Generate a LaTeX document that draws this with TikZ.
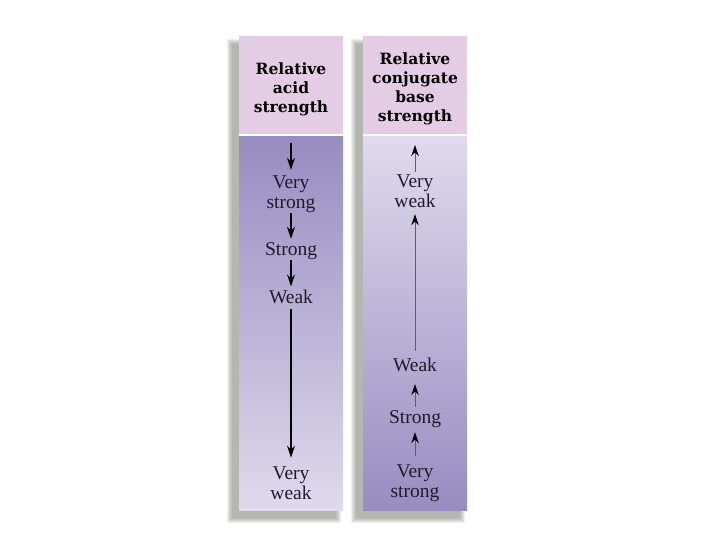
\documentclass[tikz,border=0pt]{standalone}
\usepackage{fontspec}
\newfontfamily\bodyfont{Liberation Serif}
\newfontfamily\hdrfont{DejaVu Serif}
\usetikzlibrary{arrows.meta}
\definecolor{hdr}{RGB}{229,204,229}
\definecolor{pdark}{RGB}{152,140,192}
\definecolor{plight}{RGB}{223,218,237}
\definecolor{shad}{RGB}{120,124,110}
\definecolor{txt}{RGB}{30,28,45}
\definecolor{rline}{RGB}{95,92,110}
\begin{document}
\begin{tikzpicture}[x=1pt,y=-1pt,
  hdrtext/.style={align=center,font=\hdrfont\bfseries\fontsize{15.5}{19}\selectfont,inner sep=0pt,text=black},
  lbl/.style={align=center,font=\bodyfont\fontsize{19.5}{20}\selectfont,inner sep=0pt,text=txt},
  darr/.style={line width=1.2pt,draw=black,-{Stealth[length=12pt,width=8pt]}},
  uarr/.style={line width=1pt,draw=rline,-{Stealth[length=11pt,width=7.5pt,color=black]}},
  colshadow/.style={fill=shad,opacity=0.12}
  ]
\useasboundingbox (0,0) rectangle (720,540);
\fill[white] (0,0) rectangle (720,540);
% soft drop shadows
\foreach \i in {0,...,5}{
  \fill[colshadow] (227+\i,39+\i) rectangle (341-\i,523-\i);
  \fill[colshadow] (351+\i,39+\i) rectangle (465-\i,523-\i);
}
% column bases
\fill[white] (239,36) rectangle (343,510);
\fill[white] (363,36) rectangle (467,510);
% headers
\fill[hdr] (239,36) rectangle (343,134);
\fill[hdr] (363,36) rectangle (467,134);
% bodies
\shade[top color=pdark,bottom color=plight] (239,137) rectangle (343,510);
\shade[top color=plight,bottom color=pdark] (363,137) rectangle (467,510);
% header texts
\node[hdrtext] (lh) at (291,89) {Relative\\acid\\strength};
\node[hdrtext] (rh) at (415,88.4) {Relative\\conjugate\\base\\strength};
% left column
\coordinate (l0) at (291,143);
\node[lbl] (lvs) at (291,194.5) {Very\\strong};
\node[lbl] (ls) at (291,251.5) {Strong};
\node[lbl] (lw) at (291,296.5) {Weak};
\node[lbl] (lvw) at (291,483.3) {Very\\weak};
\draw[darr,shorten >=6pt] (l0) -- (lvs);
\draw[darr,shorten >=4pt] (lvs) -- (ls);
\draw[darr,shorten >=3pt] (ls) -- (lw);
\draw[darr,shorten <=5pt,shorten >=9pt] (lw) -- (lvw);
% right column
\coordinate (r0) at (415,145);
\node[lbl] (rvw) at (415,191.5) {Very\\weak};
\node[lbl] (rw) at (415,365) {Weak};
\node[lbl] (rs) at (415,419.5) {Strong};
\node[lbl] (rvs) at (415,483) {Very\\strong};
\draw[uarr,shorten <=3pt] (rvw) -- (r0);
\draw[uarr,shorten <=7pt,shorten >=6pt] (rw) -- (rvw);
\draw[uarr,shorten <=4pt,shorten >=12pt] (rs) -- (rw);
\draw[uarr,shorten <=8pt,shorten >=4pt] (rvs) -- (rs);
\end{tikzpicture}
\end{document}
